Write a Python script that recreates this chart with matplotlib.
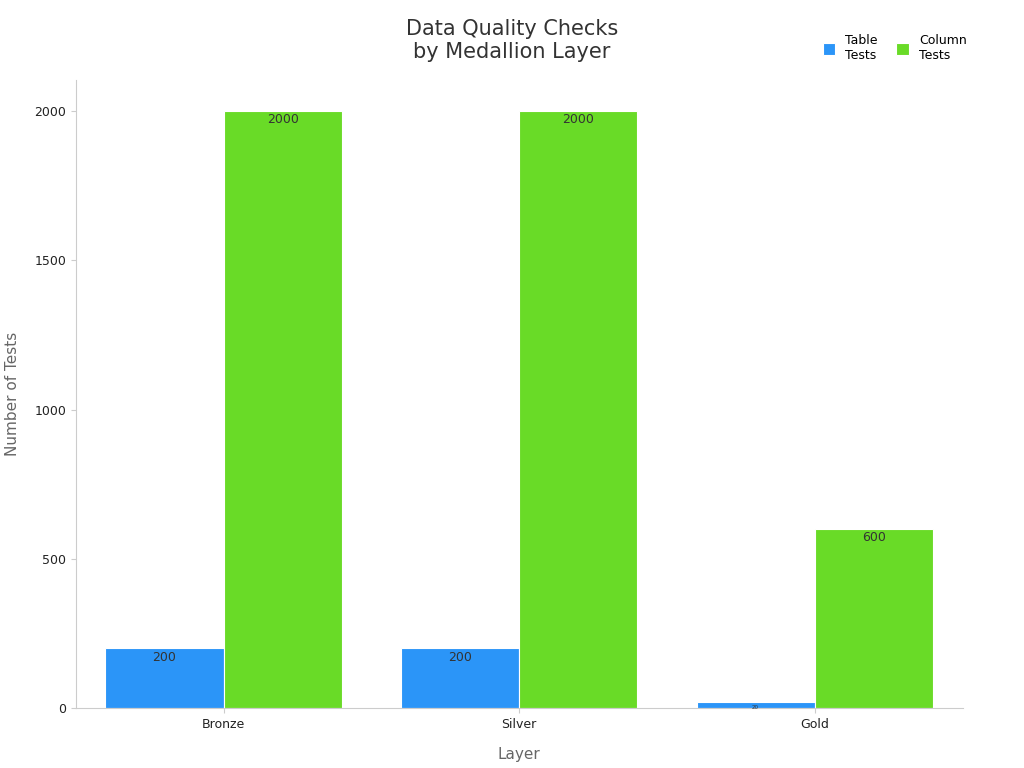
import matplotlib.pyplot as plt
import numpy as np

layers = ["Bronze", "Silver", "Gold"]
table_tests = [200, 200, 20]
column_tests = [2000, 2000, 600]

fig, ax = plt.subplots(figsize=(10.24, 7.68), dpi=100)
fig.subplots_adjust(left=0.074, right=0.94, top=0.896, bottom=0.078)

x = np.arange(len(layers))
w = 0.4
b1 = ax.bar(x - w / 2, table_tests, w, color="#2b95f8", edgecolor="white", linewidth=0.8, label="Table\nTests")
b2 = ax.bar(x + w / 2, column_tests, w, color="#69db27", edgecolor="white", linewidth=0.8, label="Column\nTests")

for bars in (b1, b2):
    for r in bars:
        h = r.get_height()
        fs = 9 if h >= 100 else 4
        ax.text(r.get_x() + r.get_width() / 2, h - 8, f"{h:g}", ha="center", va="top",
                fontsize=fs, color="#333333")

ax.set_xlim(-0.5, 2.5)
ax.set_ylim(0, 2104)
ax.set_yticks([0, 500, 1000, 1500, 2000])
ax.set_xticks(x)
ax.set_xticklabels(layers)
ax.tick_params(labelsize=9, colors="#222222")
ax.tick_params(axis="both", color="#cccccc")
for s in ("top", "right"):
    ax.spines[s].set_visible(False)
for s in ("left", "bottom"):
    ax.spines[s].set_color("#cccccc")

ax.set_xlabel("Layer", fontsize=11, color="#666666", labelpad=12)
ax.set_ylabel("Number of Tests", fontsize=11, color="#666666", labelpad=10)
fig.suptitle("Data Quality Checks\nby Medallion Layer", fontsize=15, color="#333333", y=0.975)

fig.legend(loc="upper right", bbox_to_anchor=(0.955, 0.97), ncol=2, frameon=False,
           fontsize=9, handlelength=1, handleheight=1, columnspacing=1.5)

fig.savefig("out.png")
